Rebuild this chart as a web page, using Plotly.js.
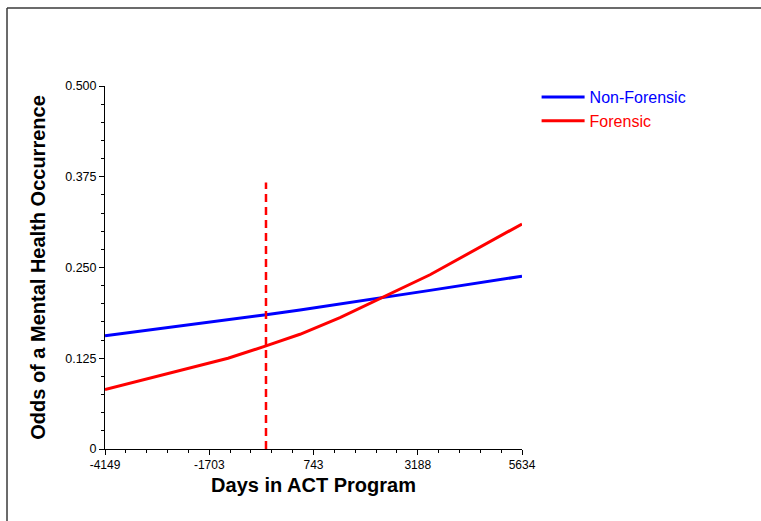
<!DOCTYPE html>
<html>
<head>
<meta charset="utf-8">
<script src="https://cdn.plot.ly/plotly-3.0.1.min.js"></script>
<style>
  html, body { margin: 0; padding: 0; background: #fff; }
  #chart { width: 761px; height: 521px; }
</style>
</head>
<body>
<div id="chart"></div>
<script>
// Predicted odds over time in the ACT program
const days = [-4149, -1263, -372, 426, 1364, 2420, 3476, 5634];
const nonForensic = [0.156, 0.1775, 0.185, 0.1915, 0.1995, 0.209, 0.2185, 0.238];
const forensic = [0.082, 0.125, 0.142, 0.158, 0.181, 0.210, 0.240, 0.310];

// Program entry reference line
const entryDay = [-372, -372];
const entryOdds = [0, 0.367];

// Axis ticks
const xTickVals = [-4149, -1703.25, 742.5, 3188.25, 5634];
const xTickText = ['-4149', '-1703', '743', '3188', '5634'];
const yTickVals = [0, 0.125, 0.25, 0.375, 0.5];
const yTickText = ['0', '0.125', '0.250', '0.375', '0.500'];

const FONT = 'Arial, "Liberation Sans", Helvetica, sans-serif';

const traces = [
  {
    x: days, y: nonForensic, type: 'scatter', mode: 'lines',
    name: '<span style="color:#0000ff">Non-Forensic</span>',
    line: { color: '#0000ff', width: 3 }
  },
  {
    x: days, y: forensic, type: 'scatter', mode: 'lines',
    name: '<span style="color:#ff0000">Forensic</span>',
    line: { color: '#ff0000', width: 3 }
  },
  {
    x: entryDay, y: entryOdds, type: 'scatter', mode: 'lines',
    showlegend: false, hoverinfo: 'skip',
    line: { color: '#ff0000', width: 2.5, dash: '8px,5px' }
  }
];

const layout = {
  width: 761, height: 521,
  margin: { l: 105, r: 239, t: 86, b: 72 },
  paper_bgcolor: '#ffffff', plot_bgcolor: '#ffffff',
  font: { family: FONT, color: '#000' },
  showlegend: true,
  legend: {
    x: 1.035, y: 1.0165, xanchor: 'left', yanchor: 'top',
    font: { family: FONT, size: 16 },
    itemwidth: 43,
    bgcolor: 'rgba(0,0,0,0)', tracegroupgap: 0
  },
  xaxis: {
    range: [-4149, 5634],
    tickmode: 'array', tickvals: xTickVals, ticktext: xTickText,
    ticks: 'outside', ticklen: 5, tickcolor: '#000', tickwidth: 1,
    minor: { ticks: 'outside', tick0: -4149, dtick: 489.15, ticklen: 3, tickcolor: '#000', tickwidth: 1 },
    tickfont: { family: FONT, size: 12, color: '#000' },
    showline: true, linecolor: '#000', linewidth: 1,
    showgrid: false, zeroline: false,
    title: { text: '<b>Days in ACT Program</b>', font: { family: FONT, size: 20, color: '#000' }, standoff: 6 }
  },
  yaxis: {
    range: [0, 0.5],
    tickmode: 'array', tickvals: yTickVals, ticktext: yTickText,
    ticks: 'outside', ticklen: 5, tickcolor: '#000', tickwidth: 1,
    minor: { ticks: 'outside', tick0: 0, dtick: 0.025, ticklen: 3, tickcolor: '#000', tickwidth: 1 },
    tickfont: { family: FONT, size: 12.5, color: '#000' },
    showline: true, linecolor: '#000', linewidth: 1,
    showgrid: false, zeroline: false,
    title: { text: '<b>Odds of a Mental Health Occurrence</b>', font: { family: FONT, size: 20, color: '#000' }, standoff: 14 }
  },
  shapes: [
    // page frame: top and left rules
    { type: 'line', xref: 'paper', yref: 'paper', x0: -0.235, x1: 1.6, y0: 1.2149, y1: 1.2149, line: { color: '#3a3a3a', width: 1.5 } },
    { type: 'line', xref: 'paper', yref: 'paper', x0: -0.235, x1: -0.235, y0: 1.2149, y1: -0.25, line: { color: '#3a3a3a', width: 1.5 } }
  ]
};

Plotly.newPlot('chart', traces, layout, { displayModeBar: false, staticPlot: true });
</script>
</body>
</html>
